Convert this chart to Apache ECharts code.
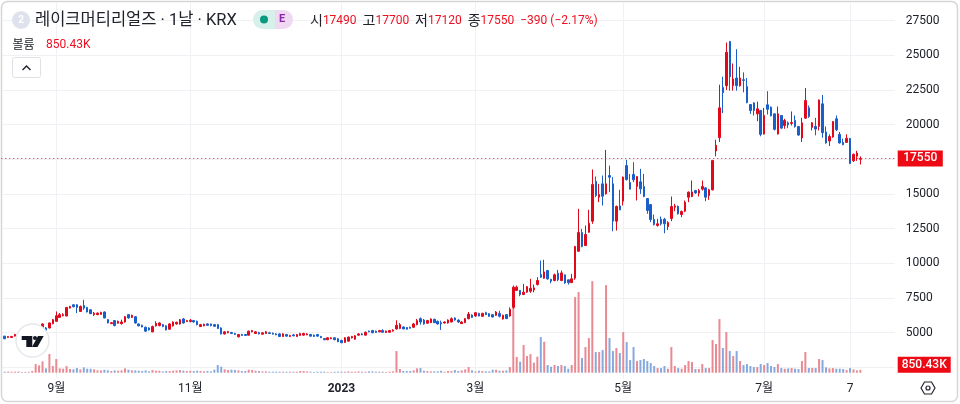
<!DOCTYPE html>
<html>
<head>
<meta charset="utf-8">
<title>레이크머티리얼즈</title>
<script src="https://cdn.jsdelivr.net/npm/echarts@6/dist/echarts.min.js"></script>
<style>
  html, body { margin: 0; padding: 0; background: #fff; }
  #chart { width: 960px; height: 404px; }
</style>
</head>
<body>
<div id="chart"></div>
<script>
// daily candles (oldest first)
const opens = [
  4740,4640,4640,4740,4860,4920,4880,4950,5000,5080,5160,5330,5330,5330,5640,5810,6090,6210,6190,6760,
  7000,7000,6520,6950,6810,6640,6290,6290,6310,6480,5930,5640,5860,5670,5640,5760,6290,6090,6140,5620,
  5520,5380,5330,5050,5480,5500,5570,5480,5240,5480,5620,5620,5980,5790,5790,5860,5810,5430,5480,5620,
  5620,5570,5570,5330,4900,4980,5000,4930,4690,4860,4860,4810,5050,4930,5000,4880,4930,4980,4950,4900,
  4900,4710,4860,4710,4830,4710,4790,4810,4830,4860,4810,4860,4710,4570,4480,4550,4620,4550,4430,4290,
  4380,4620,4520,4810,4900,4810,5100,5140,5100,5050,5140,5000,5020,5100,5260,5290,5400,5360,5380,5380,
  5570,6000,5900,5670,5710,5950,5810,5710,5690,5690,5760,6050,5900,5640,5710,6000,6260,6190,6380,6170,
  6430,6360,6290,6240,6380,5980,6290,6190,6820,8030,8030,7740,7910,7980,8070,8460,9180,8920,9470,8840,
  8750,9280,8750,9160,8800,8600,8920,10860,12210,11270,12230,13030,15890,14760,15720,15000,16320,15720,13030,14130,
  14470,17040,15820,16400,15530,15870,15530,14660,14230,13150,12720,13170,13170,12640,13220,14040,14090,13510,13750,14760,
  14810,15240,15050,15340,15430,14880,15290,18090,19050,22680,22800,25980,22800,23350,22800,23230,22730,21440,21560,20770,
  21010,19310,21420,21250,20770,19310,20650,19930,20120,20080,20290,19860,19030,20460,21200,19790,19860,19860,21490,19460,
  18810,19100,20410,19290,18710,18710,19000,17380,17710,17490
];
const closes = [
  4550,4710,4720,4860,4920,4880,4950,5000,5080,5160,5260,5620,5170,5690,5930,6210,6290,6290,6810,6880,
  6860,6810,6880,6760,6480,6360,6400,6400,6450,6050,5690,5710,5500,5810,5760,6140,6050,6240,5690,5480,
  5400,5100,5190,5430,5670,5690,5430,5190,5620,5760,5740,5930,5690,5860,5880,5760,5570,5570,5600,5520,
  5500,5450,5290,4900,5050,5070,4930,4860,4860,4790,4790,5100,5140,5050,4900,4980,5050,4930,4880,4830,
  4710,4900,4740,4790,4760,4860,4930,4930,4900,4740,4710,4740,4620,4480,4620,4620,4480,4330,4260,4620,
  4670,4710,4760,4900,4830,5020,5050,4980,5000,5140,5020,5100,5140,5170,5520,5570,5260,5240,5310,5620,
  5860,5760,5620,5860,5980,5710,5620,5620,5760,5900,6000,5900,5760,5760,6000,6330,6090,6430,6190,6380,
  6290,6170,6120,6480,6170,6240,6000,6670,8270,8270,7740,7910,8310,8190,8220,8750,8990,9370,8870,8700,
  9160,8800,9300,8580,8600,8870,11200,12210,11200,12070,12880,15670,14880,14950,14830,15720,16200,13030,14090,13850,
  16200,16030,15340,16010,16250,15360,14810,13800,13150,12790,12840,12840,12840,12930,14090,14130,13560,13730,14400,15120,
  15140,15070,15240,15530,14760,15290,17400,18500,21200,22300,25210,23450,23280,22800,23350,23180,21580,21010,21010,21130,
  19290,20650,21100,20630,19650,20770,19740,20290,19980,20150,19860,19240,20120,21730,20580,20120,19670,21770,19410,18670,
  19140,20220,19620,18670,18550,19000,17190,17850,17940,17550
];
const lows = [
  4530,4620,4620,4720,4830,4850,4860,4920,4980,5060,5130,5290,5140,5290,5600,5780,6050,6170,6170,6740,
  6820,6400,6500,6640,6450,6330,6190,6250,6290,6030,5670,5620,5450,5640,5570,5720,6000,6050,5640,5450,
  5380,5050,5150,5020,5430,5450,5380,5150,5190,5430,5570,5570,5640,5760,5740,5720,5520,5400,5450,5480,
  5450,5400,5260,4860,4860,4950,4900,4830,4650,4760,4760,4790,5020,4900,4860,4860,4900,4900,4860,4810,
  4690,4690,4710,4690,4740,4690,4760,4790,4810,4710,4690,4710,4600,4450,4450,4520,4450,4310,4240,4260,
  4360,4570,4480,4780,4810,4790,5020,4950,4980,5020,5000,4980,5000,5070,5210,5240,5240,5210,5290,5330,
  5520,5570,5570,5640,5690,5690,5570,5190,5640,5640,5740,5860,5690,5620,5690,5950,6050,6140,6170,6140,
  6260,6140,6090,6190,6090,5930,5980,6150,6710,8000,7620,7700,7860,7860,7900,8390,8940,8870,8800,8550,
  8700,8700,8700,8510,8460,8560,8800,10820,11150,11250,12190,12840,14760,14400,14160,14950,15120,12300,12350,13820,
  14160,15960,15320,15840,14520,15000,14760,13560,12960,12720,12640,12720,12160,12400,13030,13750,13510,13320,13680,14400,
  14760,15000,14810,15240,14470,14570,15240,17710,18740,20820,22490,22440,22440,22440,22730,22320,21530,20770,20650,20240,
  19150,19290,20720,20580,19570,19290,19670,19690,19740,19930,19770,19190,18740,20410,20480,19570,19220,19570,19050,18620,
  18450,19050,19530,18620,18500,18670,17140,17300,17380,17120
];
const highs = [
  4760,4740,4750,4900,4960,4950,5000,5040,5120,5200,5300,5660,5400,5720,5980,6520,6400,6400,6850,6930,
  7040,7050,6950,7360,6850,6690,6480,6450,6500,6520,5980,5740,5910,5860,5930,6190,6330,6290,6190,5670,
  5570,5430,5380,5500,5810,5740,5620,5520,5670,5810,5780,5980,6050,5910,5980,5910,5860,5620,5640,5670,
  5640,5620,5620,5380,5100,5120,5050,4980,4900,4900,4900,5140,5190,5100,5050,5020,5120,5050,5000,4950,
  4950,4950,4900,4830,4900,4900,4980,4980,4950,4900,4860,4900,4760,4600,4650,4650,4660,4600,4480,4670,
  4710,4760,4810,4950,4950,5070,5140,5190,5140,5190,5240,5140,5190,5240,5880,5690,5450,5400,5430,5690,
  5980,6090,5980,5910,6020,6000,5860,5860,5810,5950,6090,6090,5950,5810,6050,6480,6310,6480,6430,6430,
  6500,6400,6330,6550,6570,6290,6330,6810,8390,8390,8070,8510,8350,8870,8460,8990,10190,10240,9520,8870,
  9250,9520,9470,9180,8820,9230,11250,13920,12470,12720,13850,16760,16250,15720,16320,18170,17040,16200,14160,15290,
  16250,17450,16440,17280,16280,16800,16440,14690,14260,13510,13200,13360,13270,13030,14810,14280,14160,13800,14520,15170,
  15960,15290,15360,15960,15480,15360,17450,18900,22870,23450,25910,26030,24400,25430,24160,23760,23350,21460,21610,21650,
  21060,21200,22400,21300,20790,21300,20670,20410,20220,20940,20650,19880,20480,22630,21370,20170,20480,21800,22130,19860,
  19290,20240,20650,19460,18980,19290,19020,17900,18100,17700
];
// volume in millions of shares
const volumes = [
  .3,.35,.3,.3,.35,.2,.2,.25,.5,2.6,2.2,3.4,1.3,5.6,2,4.1,1.3,1.2,2,1.1,1,1.4,1,1.6,1.2,1.2,1,.7,
  .7,.9,.7,.5,.7,.6,.7,1.3,.9,.7,.7,.6,.5,.7,.4,.8,.6,.6,.4,.5,.5,.6,.7,.8,.6,.5,.6,.5,.6,.5,.4,.5,.4,.9,
  2.3,1.8,1,.8,.9,.8,.7,.5,.5,.9,.8,.6,.5,.4,.4,.3,.3,.3,.3,.3,.3,.3,.3,.3,.5,.5,.4,.3,.2,.3,
  .3,.3,.2,.2,.3,.3,.3,.3,.4,.3,.3,.4,.3,.3,.4,.4,.3,.3,.3,.2,.3,.4,
  6.5,1.1,.5,.5,.5,.7,1.3,1.4,.6,.5,.4,.4,.4,.6,.3,.5,.5,.8,.5,.7,1,1.7,.7,.4,.6,.5,.4,.4,.9,.9,.6,.6,.7,1.7,
  19.8,4.7,3.3,8.3,5,5.6,3,4.8,10.7,9.3,2.3,1.8,2.3,2,2.3,2,1.2,2.3,22.7,24.2,4.4,7.7,10.4,27.5,6.2,6.2,6.8,26.3,10.4,6.5,7.4,5.9,12.2,9.2,3.8,7.7,3.5,3.8,
  4.1,3.5,2.9,2,1.4,1.4,2,1.2,7.7,2,1.4,1.2,2.3,3.5,3.2,1.1,1.1,2.6,1.4,1.4,9.8,8.6,16.1,7.4,12.2,6.5,5,6.5,3.5,2.3,2.6,2,1.7,1.7,2.6,2.3,2.9,2,1.7,2.6,
  1.4,1.2,1.3,1.4,1.2,1.1,3.5,6.2,1.4,1.4,1.4,4.1,3.8,1.6,1.3,1.4,1.2,1.2,1.1,.8,1.4,1,.7,.85
];
// axis labels: position in the category list and text
const tickIndexes = [16, 55, 99, 138, 181, 222, 247];
const tickTexts = ["9월", "11월", "2023", "3월", "5월", "7월", "7"];
const lastClose = 17550;
const lastVolume = 0.85043;

const UP = "#e0091c", DOWN = "#1a5fc9";
const TEXT = "#20232b", RED = "#ee1021";
const FONT = 'Roboto, "Noto Sans CJK KR", sans-serif';

// one empty slot in front, some empty room behind the last candle
const SLOTS = 261;
const categories = [];
for (let i = 0; i < SLOTS; i++) {
  const t = tickIndexes.indexOf(i);
  categories.push(t >= 0 ? tickTexts[t] : "");
}
const isTick = (i) => tickIndexes.indexOf(i) >= 0;

const candleData = [["-", "-", "-", "-"]];
const volumeData = ["-"];
opens.forEach((o, i) => {
  candleData.push([o, closes[i], lows[i], highs[i]]);
  volumeData.push({
    value: volumes[i],
    itemStyle: { color: closes[i] >= o ? "#e98a93" : "#86a9dd" },
  });
});

const gridColor = "#f0f1f4";

const option = {
  animation: false,
  textStyle: { fontFamily: FONT },
  grid: [
    { left: 1.3, right: 65.3, top: 20.5, height: 346.7 },
    { left: 1.3, right: 65.3, top: 3, height: 375 },
  ],
  xAxis: [
    {
      type: "category", gridIndex: 0, data: categories, boundaryGap: false,
      axisLine: { show: false }, axisTick: { show: false },
      axisLabel: { show: false }, splitLine: { show: false },
    },
    {
      type: "category", gridIndex: 1, data: categories, boundaryGap: false,
      axisLine: { show: false }, axisTick: { show: false },
      splitLine: { show: true, interval: isTick, lineStyle: { color: gridColor, width: 1 } },
      axisLabel: {
        interval: isTick, color: TEXT, fontSize: 12, fontFamily: FONT, margin: 5,
        formatter: (v) => (v === "2023" ? "{y|2023}" : v),
        rich: { y: { fontWeight: "bold", fontSize: 12, color: TEXT, fontFamily: FONT } },
      },
    },
  ],
  yAxis: [
    {
      type: "value", gridIndex: 0, position: "right", min: 2500, max: 27500, interval: 2500,
      axisLine: { show: false }, axisTick: { show: false },
      splitLine: { lineStyle: { color: gridColor, width: 1 } },
      axisLabel: {
        color: TEXT, fontSize: 12, fontFamily: FONT, margin: 11,
        formatter: (v) => (v < 5000 ? "" : String(v)),
      },
    },
    { type: "value", gridIndex: 1, min: -1.59, max: 111, show: false },
  ],
  series: [
    {
      name: "볼륨", type: "bar", xAxisIndex: 1, yAxisIndex: 1, z: 2,
      data: volumeData, barWidth: 2,
      markLine: {
        silent: true, symbol: "none", animation: false,
        lineStyle: { width: 1, color: "rgba(0,0,0,0)" },
        data: [{ yAxis: lastVolume }],
        label: {
          show: true, position: "end", distance: 3, offset: [0, -5], formatter: "850.43K",
          color: "#fff", backgroundColor: "#ee0a14", padding: [2, 4],
          fontSize: 12, fontFamily: FONT, fontWeight: 500,
        },
      },
    },
    {
      name: "가격", type: "candlestick", xAxisIndex: 0, yAxisIndex: 0, z: 3,
      data: candleData, barWidth: 2,
      itemStyle: {
        color: UP, color0: DOWN, borderColor: UP, borderColor0: DOWN, borderWidth: 1,
      },
      markLine: {
        silent: true, symbol: "none", animation: false,
        lineStyle: { color: "#e3101f", type: [1, 3], width: 1 },
        data: [{ yAxis: lastClose }],
        label: {
          position: "end", distance: 3, formatter: String(lastClose),
          color: "#fff", backgroundColor: "#ee0a14", padding: [2, 5.5],
          fontSize: 12, fontFamily: FONT, fontWeight: 500,
        },
      },
    },
  ],
  graphic: [
    // outer frame
    { type: "rect", silent: true, z: 1, shape: { x: 1.5, y: 1.5, width: 956, height: 400, r: 6 },
      style: { fill: "none", stroke: "#d6d6d6", lineWidth: 1.5 } },
    // header
    { type: "circle", z: 10, shape: { cx: 21, cy: 20, r: 9 }, style: { fill: "#dfe2ec" } },
    { type: "text", z: 11, style: { x: 21, y: 20, text: "2", fill: "#fff", font: "bold 10px " + FONT, align: "center", verticalAlign: "middle" } },
    { type: "text", z: 10, style: { x: 35, y: 21, text: "레이크머티리얼즈 · 1날 · KRX", fill: TEXT, font: "16.5px " + FONT, verticalAlign: "middle" } },
    { type: "rect", z: 10, shape: { x: 253, y: 10, width: 22, height: 19, r: [9.5, 0, 0, 9.5] }, style: { fill: "#d7f0ea" } },
    { type: "rect", z: 10, shape: { x: 275, y: 10, width: 18, height: 19, r: [0, 9.5, 9.5, 0] }, style: { fill: "#efd9f2" } },
    { type: "circle", z: 11, shape: { cx: 264, cy: 19.5, r: 4 }, style: { fill: "#089981" } },
    { type: "text", z: 11, style: { x: 282, y: 19.5, text: "E", fill: "#8e24aa", font: "bold 11px " + FONT, align: "center", verticalAlign: "middle" } },
    { type: "text", z: 10, style: {
        x: 310, y: 21, verticalAlign: "middle", font: "12px " + FONT,
        text: "{k|시}{v|17490}  {k|고}{v|17700}  {k|저}{v|17120}  {k|종}{v|17550}  {v|−390 (−2.17%)}",
        rich: {
          k: { fill: TEXT, font: "14px " + FONT },
          v: { fill: RED, font: "12px " + FONT },
        },
      } },
    { type: "text", z: 10, style: { x: 12.5, y: 46, text: "볼륨", fill: TEXT, font: "12px " + FONT, verticalAlign: "middle" } },
    { type: "text", z: 10, style: { x: 46, y: 45, text: "850.43K", fill: RED, font: "12px " + FONT, verticalAlign: "middle" } },
    // collapse button
    { type: "rect", z: 10, shape: { x: 12.5, y: 57.5, width: 28, height: 20, r: 2 }, style: { fill: "#fff", stroke: "#dfe1e6", lineWidth: 1 } },
    { type: "polyline", z: 11, shape: { points: [[22.5, 70], [26.5, 66], [30.5, 70]] }, style: { fill: "none", stroke: "#20232b", lineWidth: 1.4 } },
    // tradingview badge
    { type: "circle", z: 10, shape: { cx: 32.5, cy: 340.5, r: 16.5 }, style: { fill: "#fff", stroke: "#e6e8ee", lineWidth: 1.5 } },
    { type: "polygon", z: 11, shape: { points: [[21.7, 336], [32.3, 336], [32.3, 347], [26.3, 347], [26.3, 340], [21.7, 340]] }, style: { fill: "#131722" } },
    { type: "circle", z: 11, shape: { cx: 35, cy: 338, r: 2 }, style: { fill: "#131722" } },
    { type: "polygon", z: 11, shape: { points: [[38, 336], [43.7, 336], [37.5, 347], [32, 347]] }, style: { fill: "#131722" } },
    // settings icon
    { type: "polygon", z: 10, shape: { points: [[921, 388], [924.5, 382], [931.5, 382], [935, 388], [931.5, 394], [924.5, 394]] }, style: { fill: "none", stroke: "#20232b", lineWidth: 1.2 } },
    { type: "circle", z: 10, shape: { cx: 928, cy: 388, r: 2 }, style: { fill: "none", stroke: "#20232b", lineWidth: 1.2 } },
  ],
};

const chart = echarts.init(document.getElementById("chart"));
chart.setOption(option);
</script>
</body>
</html>
